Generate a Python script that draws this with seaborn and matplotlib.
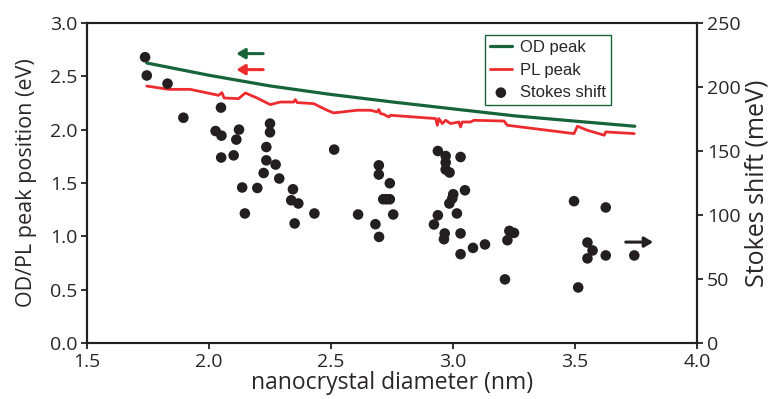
import matplotlib
matplotlib.use("Agg")
import matplotlib.pyplot as plt
import seaborn as sns
import pandas as pd

# Optical-density peak energy vs. nanocrystal diameter
od_diameter = [1.745, 2.0, 2.25, 2.5, 2.75, 3.0, 3.25, 3.5, 3.745]
od_peak_ev = [2.625, 2.51, 2.41, 2.33, 2.26, 2.195, 2.13, 2.08, 2.032]

# Photoluminescence peak energy vs. nanocrystal diameter
pl_diameter = [1.745, 1.834, 1.923, 2.039, 2.053, 2.062, 2.121, 2.149, 2.197,
               2.251, 2.292, 2.347, 2.354, 2.361, 2.429, 2.484, 2.511, 2.607,
               2.662, 2.689, 2.696, 2.703, 2.716, 2.737, 2.744, 2.929, 2.936,
               2.942, 2.956, 2.970, 2.990, 3.024, 3.031, 3.038, 3.072, 3.086,
               3.209, 3.223, 3.496, 3.510, 3.551, 3.620, 3.626, 3.743]
pl_peak_ev = [2.409, 2.378, 2.378, 2.322, 2.347, 2.297, 2.291, 2.344, 2.297,
              2.235, 2.259, 2.259, 2.282, 2.254, 2.244, 2.182, 2.157, 2.182,
              2.182, 2.166, 2.188, 2.151, 2.144, 2.119, 2.135, 2.104, 2.041,
              2.104, 2.057, 2.088, 2.057, 2.072, 2.026, 2.072, 2.072, 2.088,
              2.081, 2.041, 1.963, 2.032, 1.994, 1.948, 1.979, 1.963]

# Stokes shift of individual nanocrystal samples
stokes_diameter = [1.738, 1.745, 1.830, 1.895, 2.049, 2.027, 2.051, 2.123, 2.112,
                   2.050, 2.101, 2.250, 2.250, 2.235, 2.235, 2.273, 2.224, 2.288,
                   2.136, 2.198, 2.344, 2.337, 2.366, 2.432, 2.147, 2.351, 2.513,
                   2.611, 2.696, 2.696, 2.741, 2.714, 2.727, 2.741, 2.755, 2.682,
                   2.697, 2.938, 2.970, 2.970, 2.970, 2.986, 3.031, 3.049, 3.001,
                   2.997, 2.985, 2.938, 3.016, 2.922, 2.966, 2.963, 3.031, 3.082,
                   3.131, 3.031, 3.231, 3.250, 3.223, 3.213, 3.496, 3.626, 3.551,
                   3.572, 3.551, 3.626, 3.743, 3.513]
stokes_shift_mev = [223.3, 209.0, 202.6, 176.0, 183.9, 165.6, 162.0, 166.7, 158.9,
                    144.9, 146.6, 171.4, 164.6, 153.1, 142.7, 139.4, 132.8, 128.5,
                    121.5, 121.1, 120.1, 111.5, 109.0, 101.2, 101.2, 93.4, 151.1,
                    100.4, 138.8, 131.6, 124.8, 112.3, 112.3, 112.3, 100.4, 92.8,
                    82.9, 150.0, 146.1, 141.0, 135.5, 133.2, 145.3, 119.3, 116.2,
                    112.9, 109.0, 99.8, 101.2, 92.6, 85.6, 81.1, 85.6, 74.3,
                    77.0, 69.4, 87.6, 86.0, 80.3, 49.7, 110.8, 105.9, 78.5,
                    72.3, 66.1, 68.4, 68.4, 43.4]

x_ticks = [1.5, 2.0, 2.5, 3.0, 3.5, 4.0]
ev_ticks = [0.0, 0.5, 1.0, 1.5, 2.0, 2.5, 3.0]
mev_ticks = [0, 50, 100, 150, 200, 250]

GREEN = "#17643a"
RED = "#ee2b2e"
DOT = "#231f20"
INK = "#2a2627"

sns.set_style("ticks")
plt.rcParams["font.family"] = ["Open Sans", "DejaVu Sans"]

od_df = pd.DataFrame({"d": od_diameter, "E": od_peak_ev})
pl_df = pd.DataFrame({"d": pl_diameter, "E": pl_peak_ev})
st_df = pd.DataFrame({"d": stokes_diameter, "S": stokes_shift_mev})

fig = plt.figure(figsize=(7.72, 3.99), dpi=100)
ax = fig.add_axes([87 / 772, 56 / 399, 610 / 772, 320 / 399])
ax2 = ax.twinx()

sns.lineplot(data=od_df, x="d", y="E", ax=ax, color=GREEN, lw=2.3,
             sort=False, estimator=None, label="OD peak", legend=False)
sns.lineplot(data=pl_df, x="d", y="E", ax=ax, color=RED, lw=2.0,
             sort=False, estimator=None, label="PL peak", legend=False)
sns.scatterplot(data=st_df, x="d", y="S", ax=ax2, color=DOT, s=58,
                edgecolor="none", label="Stokes shift", legend=False)

ax.set_xlim(1.5, 4.0)
ax.set_ylim(0, 3.0)
ax2.set_ylim(0, 250)
ax.set_xticks(x_ticks)
ax.set_xticklabels([f"{t:.1f}" for t in x_ticks])
ax.set_yticks(ev_ticks)
ax.set_yticklabels([f"{t:.1f}" for t in ev_ticks])
ax2.set_yticks(mev_ticks)
ax2.set_yticklabels([str(t) for t in mev_ticks])

for a in (ax, ax2):
    for s in a.spines.values():
        s.set_visible(True)
        s.set_linewidth(1.5)
        s.set_color("#231f20")
    a.tick_params(axis="both", direction="out", length=4, width=1.3,
                  labelsize=14, colors="#231f20", labelcolor=INK, pad=3)
ax.tick_params(top=False, right=False)
ax2.tick_params(left=False, top=False)

ax.set_xlabel("nanocrystal diameter (nm)", fontsize=16.5, color=INK, labelpad=0)
ax.set_ylabel("OD/PL peak position (eV)", fontsize=15.5, color=INK, labelpad=9)
ax2.set_ylabel("Stokes shift (meV)", fontsize=18, color=INK, labelpad=3)

# Direction arrows pointing to the relevant axis for each data set
arrow_kw = dict(arrowstyle="-|>,head_length=0.5,head_width=0.3", lw=2.2,
                shrinkA=0, shrinkB=0)
ax.annotate("", xy=(2.112, 2.713), xytext=(2.222, 2.713),
            arrowprops=dict(color=GREEN, **arrow_kw))
ax.annotate("", xy=(2.112, 2.563), xytext=(2.222, 2.563),
            arrowprops=dict(color=RED, **arrow_kw))
ax.annotate("", xy=(3.82, 0.946), xytext=(3.708, 0.946),
            arrowprops=dict(color=DOT, **arrow_kw))

h1, l1 = ax.get_legend_handles_labels()
h2, l2 = ax2.get_legend_handles_labels()
leg = ax2.legend(h1 + h2, l1 + l2, loc="upper left",
                 bbox_to_anchor=(0.6525, 0.9625), frameon=True, fancybox=False,
                 edgecolor=GREEN, framealpha=1, borderpad=0.3,
                 handlelength=1.3, handletextpad=0.5, labelspacing=0.45,
                 borderaxespad=0,
                 prop={"family": ["Liberation Sans", "DejaVu Sans"], "size": 12})
leg.get_frame().set_linewidth(1.0)

fig.savefig("out.png", dpi=100)
